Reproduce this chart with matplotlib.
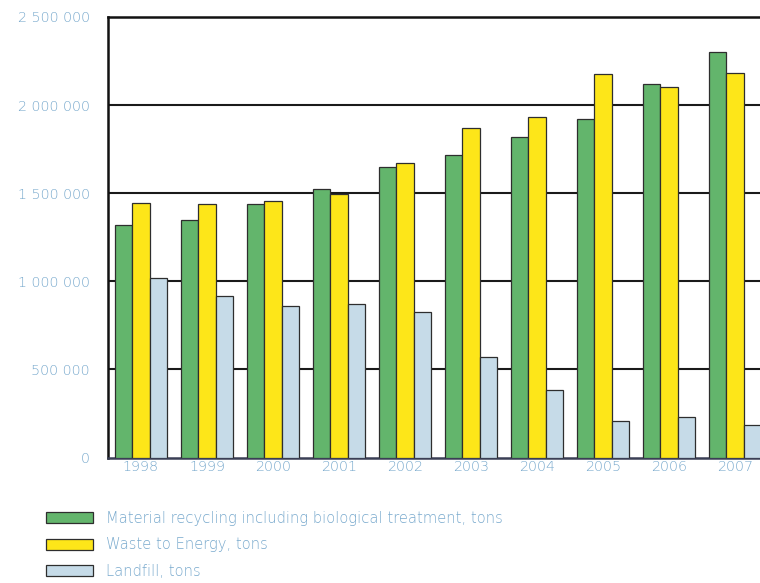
import matplotlib
matplotlib.use("Agg")
import matplotlib.pyplot as plt
import numpy as np
from matplotlib.ticker import FuncFormatter

years = ["1998", "1999", "2000", "2001", "2002", "2003", "2004", "2005", "2006", "2007"]
recycling = [1318000, 1347000, 1441000, 1521000, 1650000, 1715000, 1820000, 1922000, 2117000, 2299000]
waste_to_energy = [1443000, 1437000, 1456000, 1498000, 1671000, 1870000, 1934000, 2174000, 2102000, 2181000]
landfill = [1019000, 915000, 858000, 873000, 825000, 571000, 384000, 205000, 228000, 182000]
labels = ["Material recycling including biological treatment, tons",
          "Waste to Energy, tons",
          "Landfill, tons"]
colors = ["#63b56c", "#fde619", "#c6dbe8"]
text_color = "#78a9cd"

plt.rcParams['font.family'] = ['DejaVu Sans']
plt.rcParams['font.weight'] = 200

fig = plt.figure(figsize=(7.6, 5.83), dpi=100)
ax = fig.add_axes([108/760, 125.5/583, 660/760, 440.5/583])

x = np.arange(len(years))
w = 0.265
series = [recycling, waste_to_energy, landfill]
handles = []
for k, (vals, c, lab) in enumerate(zip(series, colors, labels)):
    b = ax.bar(x + (k - 1) * w, vals, width=w, color=c, edgecolor="#2e2e2e",
               linewidth=0.9, label=lab, zorder=3)
    handles.append(b)

ax.set_xlim(-0.5, 9.5)
ax.set_ylim(0, 2500000)
ax.set_yticks([0, 500000, 1000000, 1500000, 2000000, 2500000])
ax.yaxis.set_major_formatter(FuncFormatter(lambda v, p: f"{int(v):,}".replace(",", " ")))
ax.set_xticks(x)
ax.set_xticklabels(years)
ax.tick_params(axis='y', length=0, pad=13, labelsize=10.3, labelcolor=text_color)
ax.tick_params(axis='x', length=0, pad=2, labelsize=10.3, labelcolor=text_color)

for v in [500000, 1000000, 1500000, 2000000]:
    ax.axhline(v, color="#1a1a1a", linewidth=1.5, zorder=1)

for s in ['left', 'top']:
    ax.spines[s].set_color("#111111")
    ax.spines[s].set_linewidth(1.8)
ax.spines['bottom'].set_color("#3a3f55")
ax.spines['bottom'].set_linewidth(1.8)
ax.spines['right'].set_visible(False)

leg = fig.legend(handles=handles, labels=labels, loc='upper left',
                 bbox_to_anchor=(40/760, 1 - 505/583), frameon=False,
                 fontsize=10.6, handlelength=3.2, handleheight=0.8,
                 labelspacing=0.78, handletextpad=0.85, borderaxespad=0)
for t in leg.get_texts():
    t.set_color(text_color)

fig.savefig("out.png", dpi=100)
